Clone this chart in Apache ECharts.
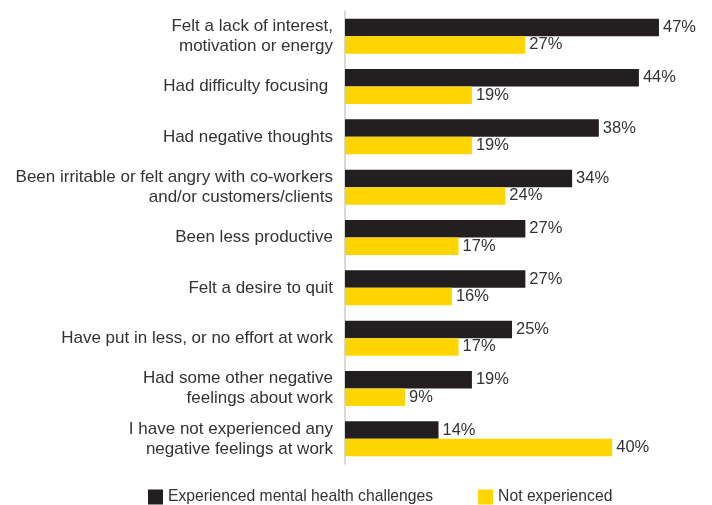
<!DOCTYPE html>
<html>
<head>
<meta charset="utf-8">
<script src="https://cdn.jsdelivr.net/npm/echarts@6/dist/echarts.min.js"></script>
<style>
  html, body { margin: 0; padding: 0; background: #ffffff; }
  #chart { width: 712px; height: 505px; }
</style>
</head>
<body>
<div id="chart"></div>
<script>
// Categories, listed top to bottom
const categories = [
  'Felt a lack of interest,\nmotivation or energy',
  'Had difficulty focusing ',
  'Had negative thoughts',
  'Been irritable or felt angry with co-workers\nand/or customers/clients',
  'Been less productive',
  'Felt a desire to quit',
  'Have put in less, or no effort at work',
  'Had some other negative\nfeelings about work',
  'I have not experienced any\nnegative feelings at work'
];

// Share of respondents (%)
const experienced = [47, 44, 38, 34, 27, 27, 25, 19, 14];
const notExperienced = [27, 19, 19, 24, 17, 16, 17, 9, 40];

const seriesNames = ['Experienced mental health challenges', 'Not experienced'];

const FONT = '"Liberation Sans", Arial, Helvetica, sans-serif';
const TEXT = '#333333';

const chart = echarts.init(document.getElementById('chart'), null, { renderer: 'canvas' });

const valueLabel = {
  show: true,
  position: 'right',
  distance: 4,
  formatter: '{c}%',
  color: TEXT,
  fontFamily: FONT,
  fontSize: 16.5
};

chart.setOption({
  animation: false,
  backgroundColor: '#ffffff',
  textStyle: { fontFamily: FONT },
  grid: { left: 345, right: 33, top: 11, bottom: 41, containLabel: false },
  legend: {
    left: 148,
    top: 489,
    padding: 0,
    itemWidth: 15,
    itemHeight: 15,
    itemGap: 45,
    icon: 'rect',
    textStyle: { color: TEXT, fontFamily: FONT, fontSize: 15.7 },
    data: seriesNames
  },
  xAxis: {
    type: 'value',
    min: 0,
    max: 50,
    show: false,
    splitLine: { show: false }
  },
  yAxis: {
    type: 'category',
    inverse: true,
    data: categories,
    axisLine: { show: true, lineStyle: { color: '#cccccc', width: 1.5 } },
    axisTick: { show: false },
    axisLabel: {
      margin: 12,
      color: TEXT,
      fontFamily: FONT,
      fontSize: 17,
      lineHeight: 20,
      align: 'right'
    }
  },
  series: [
    {
      name: seriesNames[0],
      type: 'bar',
      data: experienced,
      barWidth: 17.5,
      barGap: '0%',
      itemStyle: { color: '#231f20' },
      label: valueLabel
    },
    {
      name: seriesNames[1],
      type: 'bar',
      data: notExperienced,
      barWidth: 17.5,
      barGap: '0%',
      itemStyle: { color: '#ffd500' },
      label: valueLabel
    }
  ]
});
</script>
</body>
</html>
